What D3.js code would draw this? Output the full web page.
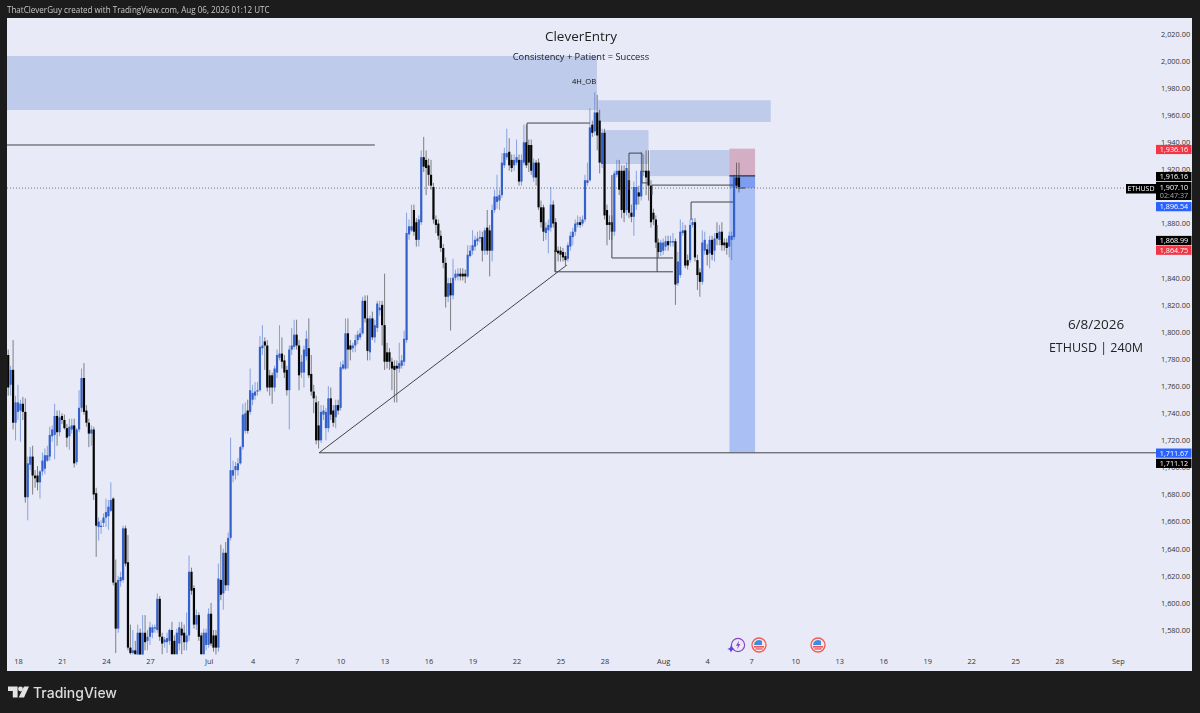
<!DOCTYPE html>
<html>
<head>
<meta charset="utf-8">
<title>ETHUSD 240M</title>
<script src="https://d3js.org/d3.v7.min.js"></script>
<style>
  html, body { margin: 0; padding: 0; background: #1c1c1c; overflow: hidden; }
  svg { display: block; filter: blur(0.3px); }
  text { font-family: "Open Sans", sans-serif; }
</style>
</head>
<body>
<svg id="chart" width="1200" height="713"></svg>
<script>
// 4H candles, twenty to a row
var opens = [
1783,1761,1772,1733,1741,1742,1747,1741,1678,1702,1708,1694,1694,1689,1697,1699,1705,1708,1723,1724,
1738,1726,1738,1735,1729,1723,1728,1731,1704,1728,1744,1766,1742,1733,1725,1728,1681,1656,1656,1659,
1663,1664,1668,1677,1615,1581,1616,1617,1655,1630,1567,1563,1565,1558,1578,1558,1578,1572,1575,1578,
1581,1580,1603,1575,1571,1571,1572,1580,1572,1562,1570,1581,1578,1571,1576,1623,1611,1584,1591,1576,
1562,1569,1569,1592,1576,1576,1567,1617,1607,1637,1613,1648,1694,1698,1698,1703,1715,1727,1742,1741,
1750,1753,1756,1757,1788,1793,1790,1768,1768,1759,1770,1781,1784,1779,1772,1757,1787,1789,1798,1790,
1770,1770,1782,1788,1769,1756,1748,1731,1720,1739,1729,1729,1751,1742,1737,1746,1744,1773,1773,1799,
1790,1788,1790,1794,1796,1799,1823,1810,1785,1810,1796,1803,1816,1820,1805,1785,1785,1778,1775,1775,
1773,1775,1778,1794,1872,1875,1890,1881,1868,1881,1929,1927,1923,1916,1907,1883,1880,1871,1862,1851,
1826,1836,1827,1840,1841,1843,1843,1843,1841,1856,1860,1863,1867,1869,1870,1860,1877,1875,1860,1890,
1896,1897,1901,1923,1929,1933,1927,1923,1925,1927,1911,1925,1940,1938,1938,1914,1925,1925,1892,1892,
1873,1875,1877,1894,1881,1860,1860,1859,1856,1854,1863,1870,1874,1879,1881,1880,1883,1910,1912,1953,
1948,1962,1956,1924,1947,1890,1881,1881,1874,1916,1919,1919,1919,1890,1912,1888,1885,1894,1903,1900,
1918,1919,1919,1908,1888,1883,1866,1859,1860,1863,1867,1866,1866,1867,1836,1842,1873,1875,1853,1853,
1879,1881,1853,1844,1837,1860,1861,1858,1868,1860,1873,1868,1874,1866,1866,1863,1868,1870,1914,1914];

var closes = [
1759,1772,1733,1748,1748,1747,1741,1678,1703,1708,1694,1692,1689,1697,1705,1709,1709,1724,1728,1738,
1726,1737,1735,1729,1722,1730,1731,1703,1728,1744,1766,1741,1733,1725,1728,1680,1657,1660,1657,1663,
1667,1671,1676,1615,1581,1617,1619,1655,1629,1567,1563,1565,1562,1578,1558,1578,1571,1575,1582,1582,
1582,1603,1575,1570,1573,1574,1580,1562,1562,1578,1582,1576,1571,1576,1623,1609,1584,1591,1575,1562,
1578,1578,1592,1570,1567,1567,1618,1606,1637,1613,1648,1698,1698,1701,1703,1715,1739,1740,1727,1757,
1755,1756,1757,1789,1790,1790,1759,1759,1759,1773,1783,1784,1778,1770,1757,1787,1790,1798,1790,1768,
1778,1787,1795,1768,1756,1751,1720,1720,1741,1742,1741,1751,1739,1733,1746,1742,1774,1776,1799,1787,
1787,1790,1794,1798,1799,1823,1810,1786,1810,1796,1805,1821,1818,1805,1778,1778,1778,1773,1772,1773,
1777,1779,1795,1873,1878,1878,1874,1868,1883,1929,1922,1921,1916,1908,1883,1879,1871,1862,1851,1826,
1836,1827,1840,1843,1843,1841,1841,1841,1857,1860,1864,1868,1869,1870,1860,1875,1860,1860,1890,1900,
1900,1901,1925,1932,1932,1923,1921,1927,1929,1911,1927,1940,1923,1925,1919,1925,1914,1892,1881,1874,
1877,1879,1894,1880,1859,1858,1857,1855,1853,1864,1871,1874,1880,1881,1879,1883,1912,1912,1951,1947,
1962,1945,1925,1947,1886,1879,1879,1874,1917,1919,1905,1890,1888,1921,1888,1885,1907,1907,1900,1919,
1919,1914,1908,1881,1883,1866,1859,1866,1866,1867,1864,1867,1867,1835,1852,1874,1875,1849,1849,1879,
1881,1855,1842,1837,1866,1868,1857,1868,1857,1869,1869,1874,1864,1864,1862,1871,1871,1914,1908,1907];

var highs = [
1787,1775,1794,1753,1761,1750,1752,1751,1708,1715,1716,1698,1701,1698,1711,1714,1716,1730,1731,1747,
1742,1742,1740,1739,1732,1736,1736,1736,1729,1757,1773,1777,1746,1736,1731,1730,1685,1663,1661,1666,
1677,1676,1689,1678,1632,1620,1623,1657,1657,1650,1584,1580,1572,1584,1581,1591,1591,1580,1586,1584,
1584,1607,1605,1578,1575,1578,1581,1586,1576,1581,1586,1586,1584,1593,1635,1626,1613,1595,1593,1578,
1581,1581,1596,1600,1580,1580,1629,1643,1640,1645,1652,1722,1705,1704,1707,1716,1747,1748,1750,1773,
1761,1763,1763,1797,1805,1796,1794,1772,1770,1775,1787,1805,1796,1783,1775,1790,1803,1809,1809,1794,
1783,1790,1801,1810,1783,1761,1753,1749,1746,1746,1744,1760,1759,1746,1750,1750,1778,1779,1810,1810,
1794,1792,1798,1801,1803,1826,1827,1827,1812,1815,1809,1823,1823,1823,1843,1792,1788,1781,1779,1779,
1792,1783,1801,1888,1883,1894,1894,1884,1886,1934,1944,1934,1928,1927,1910,1886,1883,1875,1865,1855,
1840,1840,1854,1846,1847,1847,1847,1846,1864,1864,1875,1871,1874,1875,1874,1877,1890,1879,1894,1905,
1916,1905,1932,1936,1950,1943,1931,1931,1942,1931,1931,1953,1953,1942,1942,1928,1927,1928,1897,1894,
1881,1883,1907,1897,1884,1863,1863,1862,1859,1866,1874,1877,1883,1886,1885,1886,1916,1925,1965,1956,
1977,1975,1964,1950,1950,1894,1886,1886,1919,1927,1927,1923,1923,1925,1919,1894,1911,1919,1908,1933,
1931,1934,1934,1912,1891,1886,1869,1868,1869,1871,1871,1871,1873,1869,1859,1883,1881,1879,1857,1883,
1884,1884,1857,1847,1875,1874,1865,1871,1871,1873,1881,1879,1881,1869,1869,1874,1874,1916,1925,1925];

var lows = [
1753,1753,1728,1720,1735,1719,1735,1674,1661,1698,1680,1685,1683,1677,1694,1695,1704,1705,1719,1706,
1716,1723,1732,1728,1715,1713,1725,1700,1702,1726,1741,1739,1730,1715,1716,1676,1634,1646,1651,1656,
1656,1654,1667,1613,1563,1578,1612,1615,1627,1565,1558,1558,1558,1555,1555,1555,1565,1565,1569,1574,
1578,1578,1572,1562,1567,1563,1569,1558,1558,1558,1565,1562,1565,1565,1572,1606,1581,1580,1572,1558,
1558,1565,1567,1568,1564,1561,1564,1602,1595,1609,1609,1646,1689,1691,1694,1702,1713,1725,1725,1739,
1746,1750,1753,1756,1783,1772,1756,1753,1747,1756,1766,1779,1773,1766,1753,1728,1783,1787,1787,1757,
1766,1759,1779,1766,1753,1740,1717,1714,1718,1735,1720,1726,1735,1730,1729,1739,1742,1772,1772,1773,
1779,1785,1785,1791,1794,1798,1807,1779,1779,1794,1792,1800,1812,1790,1772,1773,1772,1757,1748,1748,
1770,1773,1775,1792,1868,1874,1871,1863,1863,1879,1918,1901,1908,1905,1880,1873,1868,1859,1847,1818,
1822,1801,1824,1838,1838,1838,1838,1836,1840,1855,1857,1860,1864,1866,1852,1857,1857,1841,1852,1888,
1891,1890,1899,1921,1927,1919,1918,1919,1923,1908,1908,1923,1921,1918,1916,1911,1908,1890,1877,1867,
1868,1858,1874,1877,1844,1852,1852,1852,1849,1852,1860,1864,1871,1877,1877,1878,1881,1908,1911,1944,
1945,1934,1917,1921,1883,1864,1868,1868,1871,1914,1901,1884,1881,1886,1884,1881,1871,1890,1894,1897,
1915,1901,1897,1877,1879,1862,1855,1856,1857,1860,1860,1863,1863,1820,1834,1840,1871,1847,1846,1851,
1877,1852,1831,1826,1835,1857,1849,1847,1853,1852,1864,1864,1860,1860,1857,1855,1853,1868,1906,1903];

// axis ticks (bar number for the time axis)
var priceTicks = [2020,2000,1980,1960,1940,1920,1900,1880,1860,1840,1820,1800,1780,1760,1740,1720,1700,1680,1660,1640,1620,1600,1580];
var timeTicks = [4,22,40,58,82,100,118,136,154,172,190,208,226,244,268,286,304,322,340,358,376,394,412,430,454];
var timeLabels = ["18","21","24","27","Jul","4","7","10","13","16","19","22","25","28","Aug","4","7","10","13","16","19","22","25","28","Sep"];

// drawn zones in [bar, bar, price, price]
var zones = [
  [-1, 240.9, 2003.7, 1963.8],
  [241.3, 312, 1971, 1955],
  [243.4, 262, 1949, 1924],
  [262.6, 295.3, 1934.3, 1915]
];

// short position tool
var posBars = [295.1, 305.6];
var stopPrice = 1935.3, entryPrice = 1915.2, lastPrice = 1906.2, targetPrice = 1711.1;

// drawn lines, each a list of [bar, price]
var drawings = [
  [[-1, 1938], [150, 1938]],
  [[127.2, 1710.8], [228.6, 1849.4]],
  [[127.2, 1710.8], [470, 1710.8]],
  [[212.3, 1939.5], [212.3, 1954.2], [238, 1954.2]],
  [[223.7, 1860.5], [223.7, 1844.4], [272, 1844.4]],
  [[265.5, 1878.9], [265.5, 1844.4]],
  [[247, 1915.8], [247, 1854.6], [272, 1854.6]],
  [[254, 1904.8], [254, 1932], [259.3, 1932], [259.3, 1910], [261.8, 1910]],
  [[263.4, 1901], [263.4, 1908.4], [296.6, 1908.4]],
  [[279.4, 1882.6], [279.4, 1895.9], [296.6, 1895.9]],
  [[298.5, 1906.2], [301.5, 1906.2]]
];

// price tags on the right hand scale, nudge is how far the tag was pushed off its price
var tagPrices = [1936.16, 1916.16, 1896.54, 1868.99, 1864.75, 1711.67, 1711.12];
var tagTexts = ["1,936.16", "1,916.16", "1,896.54", "1,868.99", "1,864.75", "1,711.67", "1,711.12"];
var tagColors = ["#f23645", "#000000", "#2962ff", "#000000", "#f23645", "#2962ff", "#000000"];
var tagNudges = [2, 2, 5.5, 2, 6, 1.5, 11];

var svg = d3.select("#chart");
var chartBg = "#e8ebf7";
var upColor = "#3460cb", downColor = "#060606";

var x = d3.scaleLinear().domain([0, 454]).range([8.2, 1117.8]);
var y = d3.scaleLinear().domain([2000, 1580]).range([61, 630]);

var bars = d3.range(opens.length).map(function(i) {
  return {i: i, o: opens[i], c: closes[i], h: highs[i], l: lows[i]};
});

// frame
svg.append("rect").attr("x", 7).attr("y", 18).attr("width", 1185).attr("height", 653).attr("fill", chartBg);

svg.append("clipPath").attr("id", "plot")
  .append("rect").attr("x", 7).attr("y", 18).attr("width", 1150).attr("height", 636.5);

var plot = svg.append("g").attr("clip-path", "url(#plot)");

// zones
plot.selectAll(".zone").data(zones).enter().append("rect")
  .attr("class", "zone")
  .attr("x", function(d) { return x(d[0]); })
  .attr("width", function(d) { return x(d[1]) - x(d[0]); })
  .attr("y", function(d) { return y(d[2]); })
  .attr("height", function(d) { return y(d[3]) - y(d[2]); })
  .attr("fill", "#bfcbea");

// position tool
function posRect(p1, p2, color) {
  plot.append("rect")
    .attr("x", x(posBars[0])).attr("width", x(posBars[1]) - x(posBars[0]))
    .attr("y", y(p1)).attr("height", y(p2) - y(p1))
    .attr("fill", color);
}
posRect(stopPrice, entryPrice, "#d3aec5");
posRect(entryPrice, lastPrice, "#7c9df0");
posRect(lastPrice, targetPrice, "#aac0f4");

// last price dotted line
plot.append("line")
  .attr("x1", 7).attr("x2", 1126).attr("y1", y(lastPrice)).attr("y2", y(lastPrice))
  .attr("stroke", "#555").attr("stroke-width", 0.8).attr("stroke-dasharray", "1 2");

// candles
plot.selectAll(".wick").data(bars).enter().append("line")
  .attr("class", "wick")
  .attr("x1", function(d) { return x(d.i); })
  .attr("x2", function(d) { return x(d.i); })
  .attr("y1", function(d) { return y(d.h); })
  .attr("y2", function(d) { return y(d.l); })
  .attr("stroke", function(d) { return d.c >= d.o ? upColor : "#222"; })
  .attr("stroke-opacity", 0.6)
  .attr("stroke-width", 0.9);

plot.selectAll(".body").data(bars).enter().append("rect")
  .attr("class", "body")
  .attr("x", function(d) { return x(d.i) - 1.1; })
  .attr("width", 2.2)
  .attr("y", function(d) { return y(Math.max(d.o, d.c)); })
  .attr("height", function(d) { return Math.max(1, Math.abs(y(d.o) - y(d.c))); })
  .attr("fill", function(d) { return d.c >= d.o ? upColor : downColor; });

// drawings
var lineGen = d3.line().x(function(d) { return x(d[0]); }).y(function(d) { return y(d[1]); });
plot.selectAll(".drawing").data(drawings).enter().append("path")
  .attr("class", "drawing")
  .attr("d", lineGen)
  .attr("fill", "none")
  .attr("stroke", "#444448")
  .attr("stroke-width", 1);

plot.append("line")
  .attr("x1", x(posBars[0])).attr("x2", x(posBars[1]))
  .attr("y1", y(entryPrice)).attr("y2", y(entryPrice))
  .attr("stroke", "#111").attr("stroke-width", 1);

// axes
var yAxis = d3.axisRight(y).tickValues(priceTicks).tickSize(0).tickFormat(d3.format(",.2f"));
var yG = svg.append("g").attr("transform", "translate(1161,0)").call(yAxis);
yG.select(".domain").remove();
yG.selectAll("text").attr("x", 0).attr("fill", "#333").style("font-size", "7.4px").style("font-family", "Open Sans");

var xAxis = d3.axisBottom(x).tickValues(timeTicks).tickSize(0)
  .tickFormat(function(d, i) { return timeLabels[i]; });
var xG = svg.append("g").attr("transform", "translate(0,656)").call(xAxis);
xG.select(".domain").remove();
xG.selectAll("text").attr("y", 3).attr("fill", "#333").style("font-size", "7.4px").style("font-family", "Open Sans");

// price tags
var tags = svg.append("g");
tagPrices.forEach(function(p, i) {
  var cy = y(p) + tagNudges[i];
  tags.append("rect").attr("x", 1156).attr("y", cy - 4.6).attr("width", 35.5).attr("height", 9.2).attr("fill", tagColors[i]);
  tags.append("text").attr("x", 1174).attr("y", cy + 2.5).attr("text-anchor", "middle")
    .attr("fill", "#fff").style("font-size", "7.2px").text(tagTexts[i]);
});

// symbol tag and countdown
tags.append("rect").attr("x", 1126).attr("y", 184).attr("width", 30).attr("height", 9.5).attr("fill", "#000");
tags.append("text").attr("x", 1141).attr("y", 191.3).attr("text-anchor", "middle").attr("fill", "#fff").style("font-size", "7px").text("ETHUSD");
tags.append("rect").attr("x", 1156).attr("y", 182).attr("width", 35.5).attr("height", 18).attr("fill", "#000");
tags.append("text").attr("x", 1174).attr("y", 189.5).attr("text-anchor", "middle").attr("fill", "#fff").style("font-size", "7.2px").text("1,907.10");
tags.append("text").attr("x", 1174).attr("y", 197.5).attr("text-anchor", "middle").attr("fill", "#aaa").style("font-size", "7.2px").text("02:47:37");

// header and notes
svg.append("text").attr("x", 7).attr("y", 13).attr("fill", "#c8c8c8").style("font-size", "8.05px")
  .text("ThatCleverGuy created with TradingView.com, Aug 06, 2026 01:12 UTC");
svg.append("text").attr("x", 581).attr("y", 41).attr("text-anchor", "middle").attr("fill", "#222")
  .style("font-size", "13.5px").text("CleverEntry");
svg.append("text").attr("x", 581).attr("y", 59.5).attr("text-anchor", "middle").attr("fill", "#222")
  .style("font-size", "9.3px").text("Consistency + Patient = Success");
svg.append("text").attr("x", 584).attr("y", 84).attr("text-anchor", "middle").attr("fill", "#111")
  .style("font-size", "7.6px").text("4H_OB");
svg.append("text").attr("x", 1096).attr("y", 329).attr("text-anchor", "middle").attr("fill", "#222")
  .style("font-size", "13.5px").text("6/8/2026");
svg.append("text").attr("x", 1096).attr("y", 352).attr("text-anchor", "middle").attr("fill", "#222")
  .style("font-size", "12.5px").text("ETHUSD | 240M");

// event markers above the time axis
function flag(cx) {
  var g = svg.append("g").attr("transform", "translate(" + cx + ",645)");
  g.append("circle").attr("r", 7).attr("fill", "#f6e6e8").attr("stroke", "#ef5a5a").attr("stroke-width", 1.3);
  g.append("rect").attr("x", -5).attr("y", 1).attr("width", 10).attr("height", 1.6).attr("fill", "#e8585c");
  g.append("rect").attr("x", -3.6).attr("y", 3.3).attr("width", 7.2).attr("height", 1.3).attr("fill", "#e8585c");
  g.append("path").attr("d", "M-5,0 A5,5 0 0 1 3,-4 L3,0 Z").attr("fill", "#3c8ce0");
}
flag(759);
flag(818);

var ev = svg.append("g").attr("transform", "translate(738,645)");
ev.append("circle").attr("r", 6.6).attr("fill", "none").attr("stroke", "#8a45c8").attr("stroke-width", 1.2);
ev.append("path").attr("d", "M1,-4.5 L-2,0.8 L0,0.8 L-1,4.5 L2.4,-1 L0.4,-1 Z").attr("fill", "#8a45c8");
ev.append("path").attr("d", "M-7,0.5 L-5.8,3 L-3.4,4 L-5.8,5 L-7,7.5 L-8.2,5 L-10.6,4 L-8.2,3 Z").attr("fill", "#5b3fe0");

// footer logo
var logo = svg.append("g").attr("fill", "#e4e4e4");
logo.append("path").attr("d", "M8,686.5 H17.6 V697.5 H12.8 V691 H8 Z");
logo.append("circle").attr("cx", 20.5).attr("cy", 689).attr("r", 2.4);
logo.append("path").attr("d", "M24,686.5 H29 L24,697.5 H18.7 Z");
svg.append("text").attr("x", 33).attr("y", 698).attr("fill", "#dcdcdc")
  .style("font-family", "Inter").style("font-size", "14px").style("font-weight", 500).text("TradingView");
</script>
</body>
</html>
